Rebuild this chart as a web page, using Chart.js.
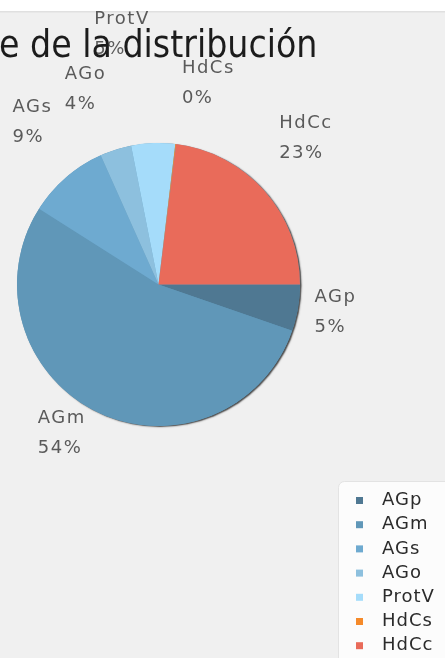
<!DOCTYPE html>
<html lang="es">
<head>
    <meta charset="UTF-8">
    <title>Distribución</title>
    <script src="https://cdn.jsdelivr.net/npm/chart.js"></script>
    <style>
        html, body { margin: 0; padding: 0; background: #fff; }
    </style>
</head>
<body>
<canvas id="pieChart" width="445" height="658"></canvas>

<script>
    // Slice names and their share (%)
    const categories = ['AGp', 'AGm', 'AGs', 'AGo', 'ProtV', 'HdCs', 'HdCc'];
    const shares = [5.3, 53.7, 9.3, 3.6, 5.0, 0.1, 23.0];
    const sliceColours = ['#4f7892', '#6097b8', '#6eaad0', '#8dc0de', '#a5dcfa', '#f58a2a', '#e96b5a'];
    const titleText = 'e de la distribución';

    const labelFont = '18px "DejaVu Sans"';

    // Grey panel behind the chart + soft shadow under the pie
    const pieBackdrop = {
        id: 'pieBackdrop',
        beforeDraw(chart) {
            const ctx = chart.ctx;
            ctx.save();
            ctx.fillStyle = '#ffffff';
            ctx.fillRect(0, 0, chart.width, chart.height);
            ctx.fillStyle = '#f0f0f0';
            ctx.fillRect(0, 12, chart.width, chart.height - 12);
            ctx.fillStyle = '#e0e0e0';
            ctx.fillRect(0, 11, chart.width, 1.5);
            ctx.restore();
        },
        beforeDatasetsDraw(chart) {
            const arc = chart.getDatasetMeta(0).data[0];
            const ctx = chart.ctx;
            ctx.save();
            ctx.shadowColor = 'rgba(0, 0, 0, 0.7)';
            ctx.shadowOffsetX = 1.5;
            ctx.shadowOffsetY = 1;
            ctx.shadowBlur = 1.5;
            ctx.fillStyle = sliceColours[1];
            ctx.beginPath();
            ctx.arc(arc.x, arc.y, arc.outerRadius, 0, Math.PI * 2);
            ctx.fill();
            ctx.restore();
        }
    };

    // Two-line labels (name + rounded percent) outside each slice
    const sliceLabels = {
        id: 'sliceLabels',
        afterDatasetsDraw(chart) {
            const ctx = chart.ctx;
            const meta = chart.getDatasetMeta(0);
            const total = shares.reduce((a, b) => a + b, 0);
            const lineGap = 30, half = 10, pad = 5;
            const placed = [];
            ctx.save();
            ctx.font = labelFont;
            ctx.letterSpacing = '1.5px';
            ctx.fillStyle = '#5a5a5a';
            ctx.textBaseline = 'middle';
            ctx.textAlign = 'left';
            meta.data.forEach((arc, i) => {
                const mid = (arc.startAngle + arc.endAngle) / 2;
                const cos = Math.cos(mid), sin = Math.sin(mid);
                const r = arc.outerRadius;
                const lines = [categories[i], Math.round(shares[i] / total * 100) + '%'];
                const w = Math.max(...lines.map(t => ctx.measureText(t).width));
                const h = lineGap + 2 * half;
                // horizontal gap shrinks for labels near the top/bottom
                const gap = 18 * Math.sqrt(Math.abs(cos));
                const edge = arc.x + cos * r * 0.99 + (cos >= 0 ? gap : -gap);
                const left = cos >= 0 ? edge : edge - w;
                const ay = arc.y + sin * (r + 24);
                let top = sin < 0 ? ay - 12 - h : ay - h / 2;
                const up = sin < 0;
                let hit = true;
                while (hit) {
                    hit = placed.find(b => left < b.left + b.w && left + w > b.left &&
                        top < b.top + b.h + pad && top + h + pad > b.top);
                    if (hit) top = up ? hit.top - h - pad : hit.top + hit.h + pad;
                }
                placed.push({ left, top, w, h });
                ctx.fillText(lines[0], left, top + half);
                ctx.fillText(lines[1], left, top + half + lineGap);
            });
            ctx.restore();
        }
    };

    // Legend box in the lower right corner, and the (cropped) title on top
    const sideLegend = {
        id: 'sideLegend',
        afterDraw(chart) {
            const ctx = chart.ctx;
            ctx.save();
            ctx.fillStyle = '#fcfcfc';
            ctx.strokeStyle = '#e3e3e3';
            ctx.beginPath();
            ctx.roundRect(338.5, 481.5, 130, 200, 6);
            ctx.fill();
            ctx.stroke();

            ctx.font = labelFont;
            ctx.letterSpacing = '1px';
            ctx.textBaseline = 'middle';
            categories.forEach((name, i) => {
                const y = 500.5 + i * 24.2;
                ctx.fillStyle = sliceColours[i];
                ctx.fillRect(356, y - 3.5, 7, 7);
                ctx.fillStyle = '#2b2b2b';
                ctx.fillText(name, 382, y);
            });

            ctx.letterSpacing = '0px';
            ctx.font = '37px "DejaVu Sans Condensed", "DejaVu Sans"';
            ctx.fillStyle = '#1c1c1c';
            ctx.textBaseline = 'alphabetic';
            ctx.fillText(titleText, -1, 57);
            ctx.restore();
        }
    };

    new Chart(document.getElementById('pieChart'), {
        type: 'pie',
        data: {
            labels: categories,
            datasets: [{
                data: shares,
                backgroundColor: sliceColours,
                borderWidth: 0,
                hoverOffset: 0
            }]
        },
        options: {
            responsive: false,
            animation: false,
            events: [],
            rotation: 90,
            layout: { padding: { left: 17, top: 143, right: 145, bottom: 232 } },
            plugins: {
                legend: { display: false },
                title: { display: false },
                tooltip: { enabled: false }
            }
        },
        plugins: [pieBackdrop, sliceLabels, sideLegend]
    });
</script>
</body>
</html>
